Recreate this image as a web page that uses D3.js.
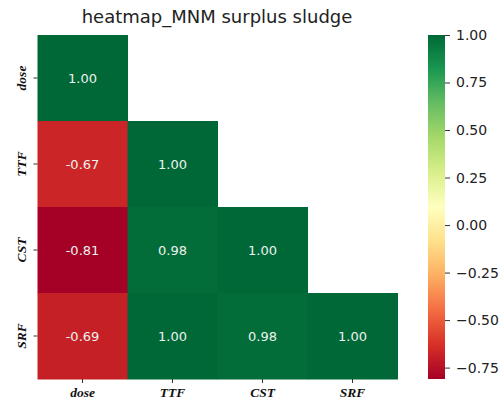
<!DOCTYPE html>
<html><head><meta charset="utf-8">
<script src="https://cdn.jsdelivr.net/npm/d3@7"></script>
<style>body{margin:0;background:#fff;} svg{display:block;}</style>
</head><body>
<svg id="chart" width="504" height="401"></svg>
<script>
const title = "heatmap_MNM surplus sludge";
const variables = ["dose", "TTF", "CST", "SRF"];
// lower-triangle correlation values (row, col)
const rowDose = [1.00];
const rowTTF = [-0.67, 1.00];
const rowCST = [-0.81, 0.98, 1.00];
const rowSRF = [-0.69, 1.00, 0.98, 1.00];
const colorbarTicks = [1.00, 0.75, 0.50, 0.25, 0.00, -0.25, -0.50, -0.75];
const vmin = -0.81, vmax = 1.00;

(function () {
const rows = [rowDose, rowTTF, rowCST, rowSRF];
const cells = [];
rows.forEach((r, i) => r.forEach((v, j) => cells.push({row: variables[i], col: variables[j], v})));

const svg = d3.select("#chart");
const pLeft = 37.5, pRight = 397.5, pTop = 35, pBottom = 379;

const x = d3.scaleBand().domain(variables).range([pLeft, pRight]);
const y = d3.scaleBand().domain(variables).range([pTop, pBottom]);

const scheme = d3.schemeRdYlGn[11];
const color = d3.scaleLinear()
  .domain(scheme.map((_, i) => vmin + (vmax - vmin) * i / (scheme.length - 1)))
  .range(scheme).clamp(true);

svg.append("text").attr("x", 217).attr("y", 23).attr("text-anchor", "middle")
  .attr("font-family", "DejaVu Sans").attr("font-size", 18).attr("fill", "#222")
  .text(title);

svg.append("g").selectAll("rect").data(cells).join("rect")
  .attr("x", d => x(d.col)).attr("y", d => y(d.row))
  .attr("width", x.bandwidth() + 0.5).attr("height", y.bandwidth() + 0.5)
  .attr("fill", d => color(d.v));

svg.append("g").selectAll("text").data(cells).join("text")
  .attr("x", d => x(d.col) + x.bandwidth() / 2)
  .attr("y", d => y(d.row) + y.bandwidth() / 2)
  .attr("dy", "0.35em").attr("text-anchor", "middle")
  .attr("font-family", "DejaVu Sans").attr("font-size", 13)
  .attr("fill", "#eef2ee")
  .text(d => d.v.toFixed(2));

// axes
const xAxis = svg.append("g").attr("transform", `translate(0,${pBottom})`)
  .call(d3.axisBottom(x).tickSize(4).tickPadding(4));
xAxis.select(".domain").remove();
xAxis.selectAll("line").attr("stroke", "#333");
xAxis.selectAll("text").attr("font-family", "Liberation Serif").attr("font-size", 13.5)
  .attr("font-weight", "bold").attr("font-style", "italic").attr("fill", "#111");

const yAxis = svg.append("g").attr("transform", `translate(${pLeft},0)`)
  .call(d3.axisLeft(y).tickSize(4).tickPadding(0));
yAxis.select(".domain").remove();
yAxis.selectAll("line").attr("stroke", "#333");
yAxis.selectAll("text")
  .attr("font-family", "Liberation Serif").attr("font-size", 13.5)
  .attr("font-weight", "bold").attr("font-style", "italic").attr("fill", "#111")
  .attr("text-anchor", "middle").attr("x", 0).attr("dy", 0)
  .attr("transform", "translate(-12,0) rotate(-90)");

// colorbar
const cbX = 428, cbW = 17;
const cbScale = d3.scaleLinear().domain([vmin, vmax]).range([pBottom, pTop]);
const defs = svg.append("defs");
const grad = defs.append("linearGradient").attr("id", "cbgrad")
  .attr("x1", 0).attr("y1", 1).attr("x2", 0).attr("y2", 0);
d3.range(0, 1.0001, 0.02).forEach(t => {
  grad.append("stop").attr("offset", t).attr("stop-color", color(vmin + (vmax - vmin) * t));
});
svg.append("rect").attr("x", cbX).attr("y", pTop).attr("width", cbW).attr("height", pBottom - pTop)
  .attr("fill", "url(#cbgrad)");
const cbAxis = svg.append("g").attr("transform", `translate(${cbX + cbW},0)`)
  .call(d3.axisRight(cbScale).tickValues(colorbarTicks).tickSize(5).tickPadding(6)
    .tickFormat(d => d3.format(".2f")(d).replace("-", "\u2212")));
cbAxis.select(".domain").remove();
cbAxis.selectAll("line").attr("stroke", "#333");
cbAxis.selectAll("text").attr("font-family", "DejaVu Sans").attr("font-size", 14).attr("fill", "#222");
})();
</script>
</body></html>
